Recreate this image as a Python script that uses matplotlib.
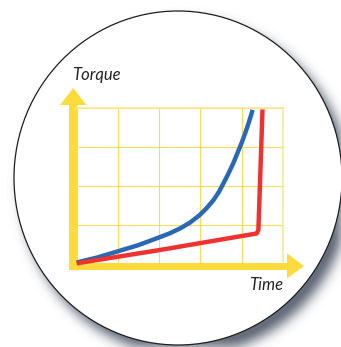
import numpy as np
import matplotlib
matplotlib.use("Agg")
import matplotlib.pyplot as plt
from matplotlib.patches import Ellipse, Polygon, Rectangle

# Curve data (time in grid columns, torque in grid rows)
blue_time = [0, 0.5, 0.97, 1.5, 1.98, 2.25, 2.51, 2.75, 2.99, 3.15, 3.32, 3.45,
             3.56, 3.68, 3.80, 3.90, 4.0, 4.09, 4.17, 4.22, 4.27]
blue_torque = [0.02, 0.15, 0.30, 0.47, 0.66, 0.77, 0.90, 1.05, 1.25, 1.42, 1.63, 1.84,
               2.06, 2.31, 2.58, 2.84, 3.10, 3.36, 3.61, 3.78, 3.96]
red_time = [0, 2.0, 4.37, 4.41, 4.51]
red_torque = [0, 0.34, 0.77, 0.86, 3.97]
x_label = "Time"
y_label = "Torque"

W, H = 341, 347
fig = plt.figure(figsize=(W / 100, H / 100), dpi=100)
fig.patch.set_facecolor("white")

# Background layer in pixel coordinates
bg = fig.add_axes([0, 0, 1, 1])
bg.set_xlim(0, W)
bg.set_ylim(H, 0)
bg.axis("off")

cx, cy, rx, ry = 178.0, 178.0, 164.0, 167.0

# soft drop shadow behind the disc
yy, xx = np.mgrid[0:H, 0:W] + 0.5
disc = ((((xx - (cx + 8)) / rx) ** 2 + ((yy - (cy + 10)) / ry) ** 2) <= 1).astype(float)
sig = 6.0
k = np.arange(-20, 21)
kern = np.exp(-k ** 2 / (2 * sig ** 2))
kern /= kern.sum()
pad = 25
big = np.pad(disc, pad)
blur = np.apply_along_axis(lambda r: np.convolve(r, kern, mode="same"), 1, big)
blur = np.apply_along_axis(lambda c: np.convolve(c, kern, mode="same"), 0, blur)
blur = blur[pad:-pad, pad:-pad]
shadow = np.zeros((H, W, 4))
shadow[..., 0] = 0.40
shadow[..., 1] = 0.43
shadow[..., 2] = 0.49
shadow[..., 3] = np.clip(blur * 1.1, 0, 1)
bg.imshow(shadow, extent=(0, W, H, 0), interpolation="bilinear", zorder=0)

bg.add_patch(Ellipse((cx, cy), 2 * rx, 2 * ry, facecolor="white",
                     edgecolor="#1e1e1e", lw=0.9, zorder=1))

# Chart area
gx0, gx1, gy0, gy1 = 76.7, 282.7, 108.3, 263.3
ax = fig.add_axes([gx0 / W, (H - gy1) / H, (gx1 - gx0) / W, (gy1 - gy0) / H])
ax.set_facecolor("none")
ax.set_xlim(0, 5)
ax.set_ylim(0, 4)
ax.set_xticks(range(6))
ax.set_yticks(range(5))
ax.tick_params(length=0, labelbottom=False, labelleft=False)
ax.grid(True, color="#f9dc5a", lw=0.8)
ax.set_axisbelow(True)
for side in ("top", "right"):
    ax.spines[side].set_color("#fbe893")
    ax.spines[side].set_linewidth(1.2)
for side in ("left", "bottom"):
    ax.spines[side].set_visible(False)

yellow = "#fddb3c"
tr = bg.transData
# vertical axis arrow
ax.add_patch(Rectangle((69.3, 104.5), 7.4, 269.5 - 104.5, facecolor=yellow,
                       edgecolor="none", transform=tr, clip_on=False, zorder=1.5))
ax.add_patch(Polygon([(60, 105), (86.5, 105), (73.2, 88)], closed=True,
                     facecolor=yellow, edgecolor="none", transform=tr,
                     clip_on=False, zorder=1.5))
# horizontal axis arrow
ax.add_patch(Rectangle((69.3, 262.8), 287.5 - 69.3, 6.7, facecolor=yellow,
                       edgecolor="none", transform=tr, clip_on=False, zorder=1.5))
ax.add_patch(Polygon([(287, 253.3), (287, 278.5), (304, 266)], closed=True,
                     facecolor=yellow, edgecolor="none", transform=tr,
                     clip_on=False, zorder=1.5))

ax.plot(blue_time, blue_torque, color="#2a67b5", lw=3.2, solid_joinstyle="round",
        solid_capstyle="butt", clip_on=False, zorder=3)
ax.plot(red_time, red_torque, color="#ee3131", lw=3.2, solid_joinstyle="round",
        solid_capstyle="butt", clip_on=False, zorder=3)

font = dict(family=["Lato", "DejaVu Sans"], style="italic", size=12, color="#262324")
bg.text(72.5, 79.5, y_label, ha="left", va="baseline", **font)
bg.text(283, 289.5, x_label, ha="right", va="baseline", **font)

fig.savefig("out.png", dpi=100, facecolor="white")
